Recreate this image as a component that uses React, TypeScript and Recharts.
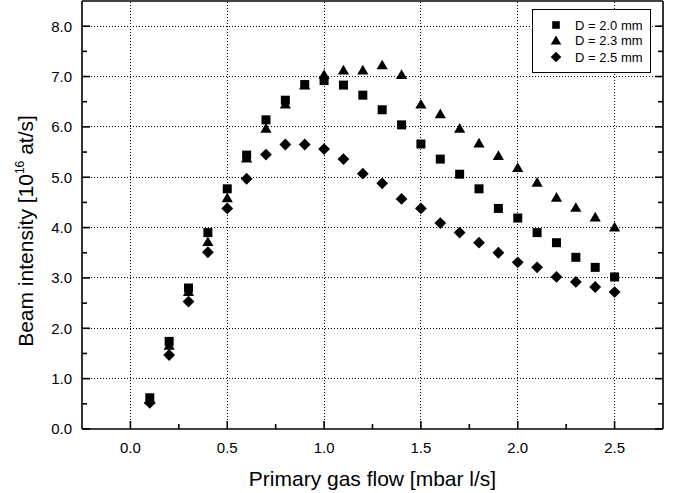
import React from 'react';
import { ScatterChart, Scatter, XAxis, YAxis, ReferenceLine, Legend } from 'recharts';

const flows = [0.1, 0.2, 0.3, 0.4, 0.5, 0.6, 0.7, 0.8, 0.9, 1.0, 1.1, 1.2, 1.3, 1.4, 1.5, 1.6, 1.7, 1.8, 1.9, 2.0, 2.1, 2.2, 2.3, 2.4, 2.5];
const d20 = [0.62, 1.74, 2.80, 3.90, 4.77, 5.44, 6.14, 6.53, 6.84, 6.92, 6.83, 6.63, 6.34, 6.04, 5.66, 5.36, 5.06, 4.77, 4.38, 4.19, 3.90, 3.70, 3.41, 3.21, 3.02];
const d23 = [0.58, 1.66, 2.73, 3.72, 4.59, 5.38, 5.97, 6.45, 6.83, 7.04, 7.13, 7.13, 7.23, 7.04, 6.45, 6.26, 5.97, 5.68, 5.43, 5.19, 4.90, 4.60, 4.40, 4.21, 4.01];
const d25 = [0.52, 1.47, 2.53, 3.51, 4.38, 4.97, 5.45, 5.65, 5.65, 5.56, 5.36, 5.07, 4.88, 4.57, 4.38, 4.09, 3.90, 3.70, 3.50, 3.31, 3.21, 3.02, 2.92, 2.82, 2.72];
const seriesNames = ['D = 2.0 mm', 'D = 2.3 mm', 'D = 2.5 mm'];

const xTicks = [0, 0.25, 0.5, 0.75, 1.0, 1.25, 1.5, 1.75, 2.0, 2.25, 2.5];
const xGrid = [0, 0.5, 1.0, 1.5, 2.0, 2.5];
const yTicks = [0, 0.5, 1, 1.5, 2, 2.5, 3, 3.5, 4, 4.5, 5, 5.5, 6, 6.5, 7, 7.5, 8];
const yGrid = [1, 2, 3, 4, 5, 6, 7, 8];

const toPoints = (vals: number[]) => flows.map((f, i) => ({ x: f, y: vals[i] }));
const s20 = toPoints(d20);
const s23 = toPoints(d23);
const s25 = toPoints(d25);

const FONT = '"Liberation Sans", Arial, sans-serif';
const isMajor = (v: number) => Math.abs(v * 2 - Math.round(v * 2)) < 1e-6;

const SquareShape = (p: any) => <rect x={p.cx - 4.5} y={p.cy - 4.5} width={9} height={9} fill="#000" />;
const TriangleShape = (p: any) => (
  <polygon points={`${p.cx},${p.cy - 5.3} ${p.cx - 5.6},${p.cy + 4.4} ${p.cx + 5.6},${p.cy + 4.4}`} fill="#000" />
);
const DiamondShape = (p: any) => (
  <polygon points={`${p.cx},${p.cy - 5.9} ${p.cx + 5.9},${p.cy} ${p.cx},${p.cy + 5.9} ${p.cx - 5.9},${p.cy}`} fill="#000" />
);

const BottomTick = (p: any) => {
  const v = p.payload.value;
  const major = isMajor(v);
  return (
    <g>
      <line x1={p.x} x2={p.x} y1={p.y} y2={p.y - (major ? 8 : 5)} stroke="#000" strokeWidth={1.6} />
      {major && (
        <text x={p.x} y={p.y + 24} textAnchor="middle" fontSize={15} fontFamily={FONT} fill="#000">
          {v.toFixed(1)}
        </text>
      )}
    </g>
  );
};
const TopTick = (p: any) => {
  const major = isMajor(p.payload.value);
  return <line x1={p.x} x2={p.x} y1={p.y} y2={p.y + (major ? 8 : 5)} stroke="#000" strokeWidth={1.6} />;
};
const LeftTick = (p: any) => {
  const v = p.payload.value;
  const major = Math.abs(v - Math.round(v)) < 1e-6;
  return (
    <g>
      <line x1={p.x} x2={p.x + (major ? 8 : 5)} y1={p.y} y2={p.y} stroke="#000" strokeWidth={1.6} />
      {major && (
        <text x={p.x - 10} y={p.y + 5.4} textAnchor="end" fontSize={15} fontFamily={FONT} fill="#000">
          {v.toFixed(1)}
        </text>
      )}
    </g>
  );
};
const RightTick = (p: any) => {
  const v = p.payload.value;
  const major = Math.abs(v - Math.round(v)) < 1e-6;
  return <line x1={p.x} x2={p.x - (major ? 8 : 5)} y1={p.y} y2={p.y} stroke="#000" strokeWidth={1.6} />;
};

const XTitle = () => (
  <text x={372.5} y={486} textAnchor="middle" fontSize={21} fontFamily={FONT} fill="#000">
    Primary gas flow [mbar l/s]
  </text>
);
const YTitle = () => (
  <text x={33} y={231} transform="rotate(-90, 33, 231)" textAnchor="middle" fontSize={21} fontFamily={FONT} fill="#000">
    Beam intensity [10
    <tspan dy={-9} fontSize={12}>16</tspan>
    <tspan dy={9}> at/s]</tspan>
  </text>
);

const legendMarkers = [
  (cx: number, cy: number) => <rect x={cx - 3.8} y={cy - 3.8} width={7.6} height={7.6} fill="#000" />,
  (cx: number, cy: number) => <polygon points={`${cx},${cy - 5} ${cx - 5.3},${cy + 4} ${cx + 5.3},${cy + 4}`} fill="#000" />,
  (cx: number, cy: number) => <polygon points={`${cx},${cy - 5.3} ${cx + 5.3},${cy} ${cx},${cy + 5.3} ${cx - 5.3},${cy}`} fill="#000" />,
];
const rowYs = [16, 31.5, 48];

const LegendBox = () => (
  <svg width={120} height={65} style={{ display: 'block' }}>
    <rect x={0.5} y={0.5} width={118} height={63} fill="#fff" stroke="#000" strokeWidth={1} />
    {seriesNames.map((n, i) => (
      <g key={n}>
        {legendMarkers[i](24, rowYs[i])}
        <text x={43} y={rowYs[i] + 4.7} fontSize={13} fontFamily={FONT} fill="#000">
          {n}
        </text>
      </g>
    ))}
  </svg>
);

export default function App() {
  return (
    <div style={{ position: 'absolute', left: 0, top: 0, width: 688, height: 493, background: '#fff' }}>
      <ScatterChart width={688} height={493} margin={{ top: 0, right: 0, bottom: 0, left: 0 }}>
        <XAxis
          dataKey="x"
          type="number"
          domain={[-0.25, 2.75]}
          ticks={xTicks}
          interval={0}
          tickSize={0}
          tickMargin={0}
          tickLine={false}
          tick={<BottomTick />}
          height={64}
          axisLine={{ stroke: '#000', strokeWidth: 1.6 }}
          label={<XTitle />}
          allowDataOverflow
        />
        <XAxis
          xAxisId="top"
          orientation="top"
          type="number"
          domain={[-0.25, 2.75]}
          ticks={xTicks}
          interval={0}
          tickSize={0}
          tickMargin={0}
          tickLine={false}
          tick={<TopTick />}
          height={1}
          axisLine={{ stroke: '#000', strokeWidth: 1.6 }}
          allowDataOverflow
        />
        <YAxis
          dataKey="y"
          type="number"
          domain={[0, 8.5]}
          ticks={yTicks}
          interval={0}
          tickSize={0}
          tickMargin={0}
          tickLine={false}
          tick={<LeftTick />}
          width={82}
          axisLine={{ stroke: '#000', strokeWidth: 1.6 }}
          label={<YTitle />}
          allowDataOverflow
        />
        <YAxis
          yAxisId="right"
          orientation="right"
          type="number"
          domain={[0, 8.5]}
          ticks={yTicks}
          interval={0}
          tickSize={0}
          tickMargin={0}
          tickLine={false}
          tick={<RightTick />}
          width={25}
          axisLine={{ stroke: '#000', strokeWidth: 1.6 }}
          allowDataOverflow
        />
        {xGrid.map((v) => (
          <ReferenceLine key={'gx' + v} x={v} stroke="#000" strokeWidth={1} strokeDasharray="1 2" shapeRendering="crispEdges" />
        ))}
        {yGrid.map((v) => (
          <ReferenceLine key={'gy' + v} y={v} stroke="#000" strokeWidth={1} strokeDasharray="1 2" shapeRendering="crispEdges" />
        ))}
        <Scatter name={seriesNames[2]} data={s25} shape={DiamondShape} isAnimationActive={false} />
        <Scatter name={seriesNames[1]} data={s23} shape={TriangleShape} isAnimationActive={false} />
        <Scatter name={seriesNames[0]} data={s20} shape={SquareShape} isAnimationActive={false} />
        <Legend
          layout="vertical"
          align="center"
          verticalAlign="middle"
          content={<LegendBox />}
          wrapperStyle={{ left: 532, top: 9, width: 120, height: 65 }}
        />
      </ScatterChart>
    </div>
  );
}
